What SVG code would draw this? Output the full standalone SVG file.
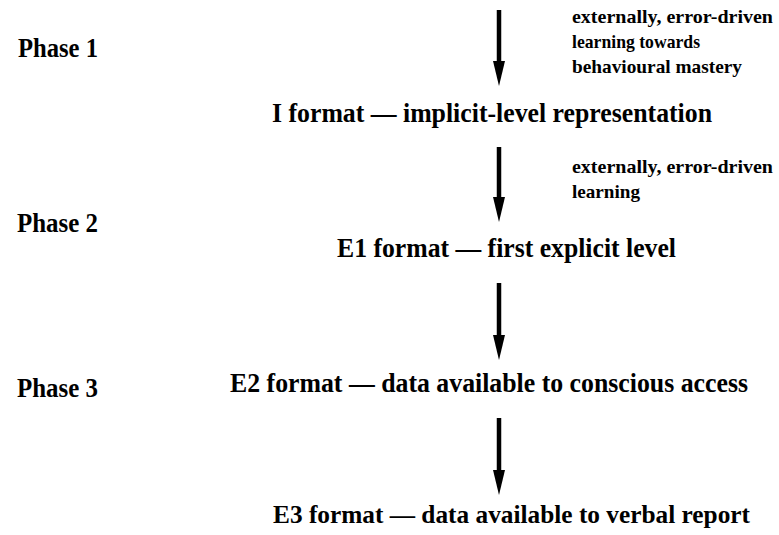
<svg xmlns="http://www.w3.org/2000/svg" width="779" height="535" viewBox="0 0 779 535">
<style>
.t{font-family:'Liberation Serif','DejaVu Serif',serif;font-weight:700;fill:#000}
.main{font-size:27px}
.phase{font-size:27px}
.lbl{font-size:19px}
.shaft{stroke:#000;stroke-width:4.5;fill:none}
</style>
<defs>
<marker id="ah" markerUnits="userSpaceOnUse" viewBox="0 0 25 12" refX="0" refY="6" markerWidth="25" markerHeight="12" orient="auto">
<path d="M0,0 L25,6 L0,12 z" fill="#000"/>
</marker>
</defs>
<rect width="779" height="535" fill="#fff"/>
<g id="phases" class="t">
<text class="t phase" x="18" y="57" textLength="80" lengthAdjust="spacingAndGlyphs">Phase 1</text>
<text class="t phase" x="17" y="232" textLength="81" lengthAdjust="spacingAndGlyphs">Phase 2</text>
<text class="t phase" x="17" y="397" textLength="81" lengthAdjust="spacingAndGlyphs">Phase 3</text>
</g>
<g id="connectors">
<line class="shaft" x1="499" y1="10" x2="499" y2="61" marker-end="url(#ah)"/>
<line class="shaft" x1="499" y1="147" x2="499" y2="197" marker-end="url(#ah)"/>
<line class="shaft" x1="499" y1="283" x2="499" y2="335" marker-end="url(#ah)"/>
<line class="shaft" x1="499" y1="418" x2="499" y2="470" marker-end="url(#ah)"/>
</g>
<g id="label1">
<text class="t lbl" x="572" y="23" textLength="201" lengthAdjust="spacingAndGlyphs">externally, error-driven</text>
<text class="t lbl" x="572" y="48" textLength="128" lengthAdjust="spacingAndGlyphs">learning towards</text>
<text class="t lbl" x="572" y="73" textLength="170" lengthAdjust="spacingAndGlyphs">behavioural mastery</text>
</g>
<g id="label2">
<text class="t lbl" x="572" y="173" textLength="201" lengthAdjust="spacingAndGlyphs">externally, error-driven</text>
<text class="t lbl" x="572" y="198" textLength="68" lengthAdjust="spacingAndGlyphs">learning</text>
</g>
<g id="node-I">
<text class="t main" x="272" y="122" textLength="440" lengthAdjust="spacingAndGlyphs">I format — implicit-level representation</text>
</g>
<g id="node-E1">
<text class="t main" x="337" y="257" textLength="339" lengthAdjust="spacingAndGlyphs">E1 format — first explicit level</text>
</g>
<g id="node-E2">
<text class="t main" x="230" y="392" textLength="518" lengthAdjust="spacingAndGlyphs">E2 format — data available to conscious access</text>
</g>
<g id="node-E3">
<text class="t main" x="273" y="523" style="font-size:25px" textLength="477" lengthAdjust="spacingAndGlyphs">E3 format — data available to verbal report</text>
</g>
</svg>
